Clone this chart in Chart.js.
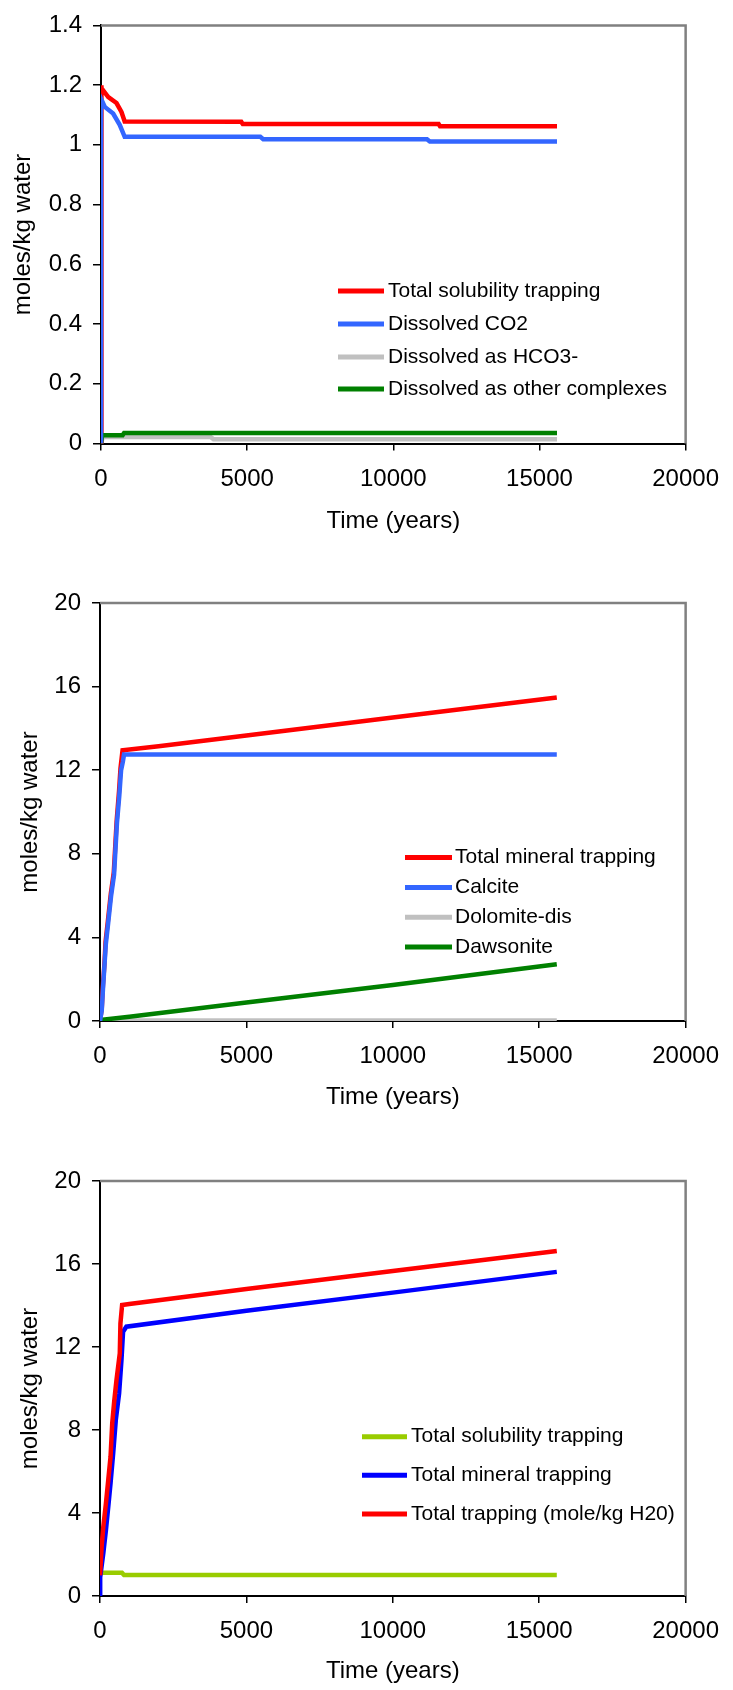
<!DOCTYPE html>
<html>
<head>
<meta charset="utf-8">
<title>CO2 trapping</title>
<script src="https://cdn.jsdelivr.net/npm/chart.js"></script>
<style>
  html, body { margin: 0; padding: 0; background: #fff; overflow: hidden; }
  .box { position: absolute; left: 0; width: 733px; }
  canvas { display: block; }
</style>
</head>
<body>
<div class="box" style="top:0px"><canvas id="solChart" width="733" height="545"></canvas></div>
<div class="box" style="top:560px"><canvas id="minChart" width="733" height="565"></canvas></div>
<div class="box" style="top:1125px"><canvas id="totChart" width="733" height="565"></canvas></div>

<script>
    // shared axis ticks
    const xTicks = [0, 5000, 10000, 15000, 20000];
    const yTicksSol = [0, 0.2, 0.4, 0.6, 0.8, 1, 1.2, 1.4];
    const yTicksMin = [0, 4, 8, 12, 16, 20];

    // chart 1 - solubility trapping
    const solTotT = [0, 0, 30, 250, 530, 700, 810, 4800, 4850, 11550, 11600, 15600];
    const solTotV = [0, 1.2, 1.19, 1.16, 1.14, 1.11, 1.078, 1.077, 1.07, 1.07, 1.062, 1.062];
    const co2T = [0, 0, 130, 415, 640, 810, 5450, 5550, 11150, 11250, 15600];
    const co2V = [0, 1.155, 1.127, 1.105, 1.067, 1.027, 1.027, 1.019, 1.019, 1.011, 1.011];
    const hco3T = [0, 60, 3750, 3850, 15600];
    const hco3V = [0, 0.022, 0.022, 0.014, 0.014];
    const otherT = [0, 40, 740, 790, 15600];
    const otherV = [0, 0.028, 0.028, 0.035, 0.035];

    // chart 2 - mineral trapping
    const minTotT = [0, 60, 100, 150, 190, 270, 370, 470, 530, 570, 650, 700, 770, 2000, 5000, 10000, 15600];
    const minTotV = [0, 0.6, 1.7, 2.7, 3.8, 4.8, 6.1, 7.1, 8.6, 9.6, 11.0, 12.1, 12.95, 13.15, 13.66, 14.52, 15.48];
    const calciteT = [0, 60, 100, 150, 200, 280, 380, 480, 540, 580, 660, 720, 780, 820, 15600];
    const calciteV = [0, 0.5, 1.5, 2.6, 3.7, 4.7, 6.0, 7.0, 8.5, 9.5, 10.8, 12.0, 12.4, 12.75, 12.75];
    const dolomiteT = [0, 15600];
    const dolomiteV = [0.02, 0.02];
    const dawsoniteT = [0, 1000, 5000, 10000, 15600];
    const dawsoniteV = [0.05, 0.2, 0.88, 1.72, 2.72];

    // chart 3 - total trapping
    const sumSolT = [0, 750, 820, 15600];
    const sumSolV = [1.12, 1.12, 1.01, 1.01];
    const sumMinT = [0, 6, 113, 203, 282, 360, 450, 540, 653, 733, 788, 900, 5000, 10000, 15600];
    const sumMinV = [0, 0.9, 2.06, 3.18, 4.3, 5.43, 6.88, 8.48, 9.77, 11.37, 12.74, 12.98, 13.75, 14.62, 15.62];
    const sumAllT = [0, 56, 113, 203, 282, 360, 417, 484, 563, 676, 698, 755, 1000, 5000, 10000, 15600];
    const sumAllV = [1.0, 2.38, 3.34, 4.47, 5.59, 6.71, 8.32, 9.36, 10.41, 11.7, 13.14, 14.02, 14.07, 14.8, 15.66, 16.63];

    const FONT = '"Liberation Sans", Arial, sans-serif';
    const tickFont = { family: FONT, size: 24 };
    const titleFont = { family: FONT, size: 24 };

    // gray top/right frame of the plot area
    const frame = {
        id: 'frame',
        beforeDatasetsDraw(chart) {
            const { ctx, chartArea: a } = chart;
            ctx.save();
            ctx.strokeStyle = '#808080';
            ctx.lineWidth = 2.5;
            ctx.beginPath();
            ctx.moveTo(a.left, a.top);
            ctx.lineTo(a.right, a.top);
            ctx.lineTo(a.right, a.bottom);
            ctx.stroke();
            ctx.restore();
        }
    };

    // legend placed inside the plot like the original
    const placedLegend = {
        id: 'placedLegend',
        afterDraw(chart, args, opts) {
            const ctx = chart.ctx;
            ctx.save();
            ctx.font = '21px ' + FONT;
            ctx.textBaseline = 'middle';
            ctx.fillStyle = '#000';
            chart.data.datasets.forEach((ds, i) => {
                const y = opts.rows[i];
                ctx.strokeStyle = ds.borderColor;
                ctx.lineWidth = 5;
                ctx.beginPath();
                ctx.moveTo(opts.x, y);
                ctx.lineTo(opts.x + opts.len, y);
                ctx.stroke();
                ctx.fillText(ds.label, opts.textX, y);
            });
            ctx.restore();
        }
    };

    function makeChart(id, sets, yMax, yTicks, geo, legend) {
        const canvas = document.getElementById(id);
        const H = canvas.height;
        return new Chart(canvas, {
            type: 'line',
            data: {
                datasets: sets.map(s => ({
                    label: s.label,
                    data: s.t.map((x, i) => ({ x: x, y: s.v[i] })),
                    borderColor: s.color,
                    borderWidth: 4.5,
                    pointRadius: 0,
                    tension: 0,
                    fill: false,
                    order: s.order || 0
                }))
            },
            options: {
                responsive: false,
                animation: false,
                layout: { padding: { top: geo.top, right: 733 - geo.right, left: 0, bottom: 0 } },
                plugins: {
                    legend: { display: false },
                    tooltip: { enabled: false },
                    placedLegend: legend
                },
                scales: {
                    x: {
                        type: 'linear',
                        min: 0,
                        max: 20000,
                        afterBuildTicks: s => { s.ticks = xTicks.map(v => ({ value: v })); },
                        afterFit: s => { s.height = H - geo.bottom; },
                        ticks: { callback: v => String(v), font: tickFont, color: '#000', padding: 14, maxRotation: 0, autoSkip: false },
                        grid: { drawOnChartArea: false, tickLength: 7, color: '#000', lineWidth: 1.5 },
                        border: { color: '#000', width: 2 },
                        title: { display: true, text: 'Time (years)', font: titleFont, color: '#000',
                                 padding: { top: 0, bottom: H - geo.xTitle - 14.4 } }
                    },
                    y: {
                        min: 0,
                        max: yMax,
                        afterBuildTicks: s => { s.ticks = yTicks.map(v => ({ value: v })); },
                        afterFit: s => { s.width = geo.left; },
                        ticks: { callback: v => String(Math.round(v * 10) / 10), font: tickFont, color: '#000', padding: 11, autoSkip: false },
                        grid: { drawOnChartArea: false, tickLength: 8, color: '#000', lineWidth: 1.5 },
                        border: { color: '#000', width: 2 },
                        title: { display: true, text: 'moles/kg water', font: titleFont, color: '#000',
                                 padding: { top: geo.yTitle - 14.4, bottom: 0 } }
                    }
                }
            },
            plugins: [frame, placedLegend]
        });
    }

    makeChart('solChart', [
        { label: 'Total solubility trapping', t: solTotT, v: solTotV, color: '#FF0000', order: 1 },
        { label: 'Dissolved CO2', t: co2T, v: co2V, color: '#3366FF', order: 0 },
        { label: 'Dissolved as HCO3-', t: hco3T, v: hco3V, color: '#C0C0C0', order: 1 },
        { label: 'Dissolved as other complexes', t: otherT, v: otherV, color: '#008000', order: 0 }
    ], 1.4, yTicksSol,
    { left: 101, right: 694, top: 19, bottom: 443.5, xTitle: 521, yTitle: 23.4 },
    { x: 338, len: 46, textX: 388, rows: [291, 324, 357, 389] });

    makeChart('minChart', [
        { label: 'Total mineral trapping', t: minTotT, v: minTotV, color: '#FF0000', order: 1 },
        { label: 'Calcite', t: calciteT, v: calciteV, color: '#3366FF', order: 0 },
        { label: 'Dolomite-dis', t: dolomiteT, v: dolomiteV, color: '#C0C0C0', order: 1 },
        { label: 'Dawsonite', t: dawsoniteT, v: dawsoniteV, color: '#008000', order: 0 }
    ], 20, yTicksMin,
    { left: 100, right: 692, top: 43, bottom: 461, xTitle: 537.7, yTitle: 30.5 },
    { x: 405, len: 47, textX: 455, rows: [297.6, 327.6, 357.3, 387] });

    makeChart('totChart', [
        { label: 'Total solubility trapping', t: sumSolT, v: sumSolV, color: '#99CC00', order: 2 },
        { label: 'Total mineral trapping', t: sumMinT, v: sumMinV, color: '#0000FF', order: 1 },
        { label: 'Total trapping (mole/kg H20)', t: sumAllT, v: sumAllV, color: '#FF0000', order: 0 }
    ], 20, yTicksMin,
    { left: 100, right: 692, top: 56, bottom: 471, xTitle: 546, yTitle: 30.5 },
    { x: 362, len: 45, textX: 411, rows: [311.7, 350.2, 389] });
</script>
</body>
</html>
